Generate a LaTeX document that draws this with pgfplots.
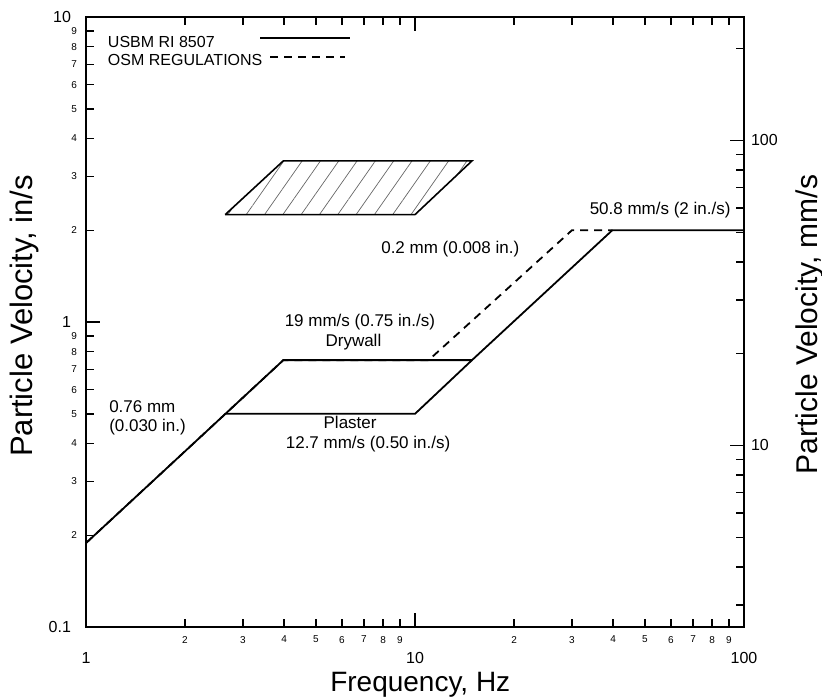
\documentclass[border=0pt]{standalone}
\usepackage{fontspec}
\setmainfont{Liberation Sans}
\usepackage{pgfplots}
\pgfplotsset{compat=1.18}
\usetikzlibrary{patterns.meta}
\begin{document}
\begin{tikzpicture}
\path[use as bounding box] (-43pt,-35pt) rectangle (368pt,313.5pt);
\begin{axis}[
  at={(0,0)}, anchor=south west, scale only axis,
  width=329pt, height=305pt,
  xmode=log, ymode=log,
  xmin=1, xmax=100, ymin=0.1, ymax=10,
  /pgf/number format/assume math mode=true,
  axis line style={line width=0.9pt},
  tick style={line width=0.7pt, black},
  tick align=inside, xtick pos=both, ytick pos=left,
  major tick length=4pt,
  xtick={2,3,4,5,6,7,8,9,20,30,40,50,60,70,80,90},
  xticklabels={2,3,4,5,6,7,8,9,2,3,4,5,6,7,8,9},
  ytick={0.2,0.3,0.4,0.5,0.6,0.7,0.8,0.9,2,3,4,5,6,7,8,9},
  yticklabels={2,3,4,5,6,7,8,9,2,3,4,5,6,7,8,9},
  tick label style={font=\fontsize{5}{5}\selectfont},
  xticklabel style={yshift=-1pt},
  yticklabel style={xshift=-1pt},
  extra x ticks={1,10,100},
  extra x tick labels={1,10,100},
  extra x tick style={major tick length=7pt, tick label style={yshift=-8pt, font=\fontsize{8}{8}\selectfont}},
  extra y ticks={0.1,1,10},
  extra y tick labels={0.1,1,10},
  extra y tick style={major tick length=7pt, tick label style={xshift=-3pt, font=\fontsize{8}{8}\selectfont}},
  xlabel={Frequency, Hz},
  xlabel style={at={(axis description cs:0.508,0)}, anchor=center, yshift=-29pt, font=\fontsize{14}{14}\selectfont},
  ylabel={Particle Velocity, in/s},
  ylabel style={at={(axis description cs:-0.093,0.51)}, anchor=center, font=\fontsize{15.5}{15.5}\selectfont},
]
% USBM RI 8507 (solid)
\addplot[black, line width=0.9pt] coordinates {(1,0.1885) (3.98,0.75) (14.9,0.75) (39.8,2) (100,2)};
\addplot[black, line width=0.9pt] coordinates {(2.65,0.5) (10,0.5) (14.9,0.75)};
% OSM regulations (dashed)
\addplot[black, line width=0.9pt, dash pattern=on 4pt off 3pt] coordinates {(1,0.1885) (3.98,0.75) (11,0.75) (30,2) (39.8,2)};
% hatched parallelogram
\addplot[black, line width=0.8pt, pattern={Lines[angle=55,distance=7.5pt,line width=0.35pt]}, pattern color=black!60] coordinates {(2.65,2.25) (10,2.25) (14.9,3.375) (3.98,3.375) (2.65,2.25)};
% legend samples
\addplot[black, line width=0.9pt] coordinates {(3.38,8.53) (6.35,8.53)};
\addplot[black, line width=0.9pt, dash pattern=on 4pt off 3pt] coordinates {(3.63,7.39) (6.12,7.39)};
\node[anchor=west, font=\fontsize{8}{8}\selectfont] at (axis cs:1.11,8.3) {USBM RI 8507};
\node[anchor=west, font=\fontsize{8}{8}\selectfont] at (axis cs:1.11,7.25) {OSM REGULATIONS};
% annotations
\node[anchor=west, align=left, font=\fontsize{8.5}{9.5}\selectfont] at (axis cs:1.12,0.484) {0.76 mm\\(0.030 in.)};
\node[font=\fontsize{8.5}{8.5}\selectfont] at (axis cs:6.8,1.0) {19 mm/s (0.75 in./s)};
\node[font=\fontsize{8.5}{8.5}\selectfont] at (axis cs:6.5,0.86) {Drywall};
\node[font=\fontsize{8.5}{8.5}\selectfont] at (axis cs:6.35,0.47) {Plaster};
\node[font=\fontsize{8.5}{8.5}\selectfont] at (axis cs:7.2,0.398) {12.7 mm/s (0.50 in./s)};
\node[font=\fontsize{8.5}{8.5}\selectfont] at (axis cs:12.8,1.74) {0.2 mm (0.008 in.)};
\node[font=\fontsize{8.5}{8.5}\selectfont] at (axis cs:55.6,2.33) {50.8 mm/s (2 in./s)};
\end{axis}
\begin{axis}[
  at={(0,0)}, anchor=south west, scale only axis,
  width=329pt, height=305pt,
  xmode=log, ymode=log,
  xmin=1, xmax=100, ymin=2.54, ymax=254,
  /pgf/number format/assume math mode=true,
  hide x axis,
  axis y line*=right,
  axis line style={line width=0.9pt, -},
  tick style={line width=0.7pt, black},
  tick align=inside,
  ytick={10,100}, yticklabels={10,100},
  major tick length=7pt,
  minor ytick={3,4,5,6,7,8,9,20,30,40,50,60,70,80,90,200},
  minor tick length=4pt,
  yticklabel style={font=\fontsize{8}{8}\selectfont},
  ylabel={Particle Velocity, mm/s},
  ylabel style={at={(axis description cs:1.1,0.496)}, anchor=center, rotate=0, font=\fontsize{15}{15}\selectfont},
]
\addplot[draw=none, forget plot] coordinates {(1,10) (100,100)};
\end{axis}
\end{tikzpicture}
\end{document}
